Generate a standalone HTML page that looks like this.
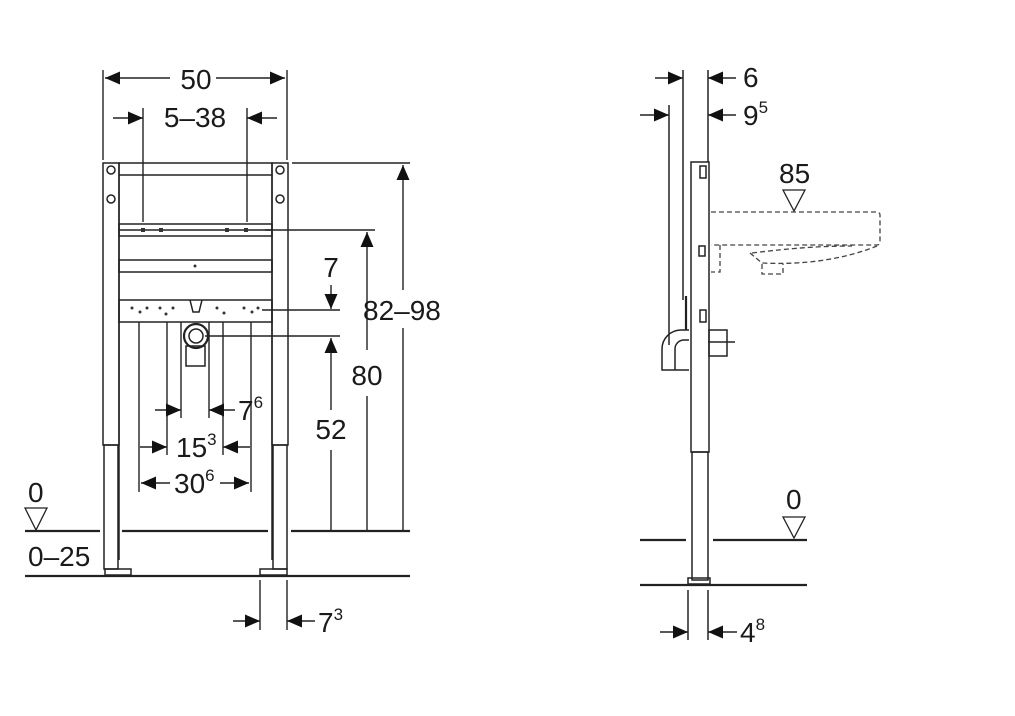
<!DOCTYPE html>
<html><head><style>html,body{margin:0;padding:0;background:#fff}svg{display:block}text{font-family:"Liberation Sans",sans-serif;fill:#1a1a1a}</style></head>
<body>
<svg width="1015" height="716" viewBox="0 0 1015 716" xmlns="http://www.w3.org/2000/svg">
<defs>
<marker id="a" markerWidth="15" markerHeight="13" refX="15" refY="6.5" orient="auto" markerUnits="userSpaceOnUse"><path d="M0,0L15,6.5L0,13z" fill="#111"/></marker>
</defs>
<g stroke="#222" stroke-width="1.5" fill="none">
<rect x="103" y="163" width="16" height="282"/>
<rect x="104" y="445" width="14" height="124"/>
<rect x="272" y="163" width="16" height="282"/>
<rect x="273" y="445" width="14" height="124"/>
<rect x="119" y="163" width="153" height="12"/>
<line x1="119" y1="175" x2="119" y2="560"/><line x1="272" y1="175" x2="272" y2="560"/>
<rect x="119" y="224" width="153" height="12"/>
<line x1="119" y1="230" x2="272" y2="230"/>
<rect x="119" y="260" width="153" height="12"/>
<rect x="119" y="300" width="153" height="22"/>
<circle cx="111" cy="170" r="4"/><circle cx="111" cy="199" r="4"/><circle cx="280" cy="170" r="4"/><circle cx="280" cy="199" r="4"/>
<circle cx="196" cy="336" r="12" stroke-width="2.2"/><circle cx="196" cy="336" r="7"/>
<rect x="186" y="346" width="19" height="20"/>
<path d="M190,300l3,12h6l3,-12" />
<rect x="105" y="569" width="26" height="6"/><rect x="260" y="569" width="27" height="6"/>
</g>
<g fill="#333">
<rect x="141" y="228" width="4" height="4"/><rect x="159" y="228" width="4" height="4"/><rect x="225" y="228" width="4" height="4"/><rect x="244" y="228" width="4" height="4"/>
<circle cx="195" cy="266" r="1.5"/>
<circle cx="132" cy="308" r="1.5"/><circle cx="140" cy="312" r="1.5"/><circle cx="147" cy="308" r="1.5"/><circle cx="160" cy="308" r="1.5"/><circle cx="166" cy="314" r="1.5"/><circle cx="173" cy="308" r="1.5"/><circle cx="217" cy="308" r="1.5"/><circle cx="224" cy="313" r="1.5"/><circle cx="244" cy="308" r="1.5"/><circle cx="252" cy="312" r="1.5"/><circle cx="258" cy="308" r="1.5"/>
</g>
<g stroke="#222" stroke-width="1.4" fill="none">
<line x1="103" y1="70" x2="103" y2="160"/><line x1="287" y1="70" x2="287" y2="160"/>
<line x1="170" y1="78" x2="105" y2="78" marker-end="url(#a)"/><line x1="216" y1="78" x2="285" y2="78" marker-end="url(#a)"/>
<line x1="143" y1="108" x2="143" y2="222"/><line x1="247" y1="108" x2="247" y2="222"/>
<line x1="113" y1="118" x2="143" y2="118" marker-end="url(#a)"/><line x1="277" y1="118" x2="247" y2="118" marker-end="url(#a)"/>
<line x1="292" y1="163" x2="410" y2="163"/><line x1="265" y1="230" x2="375" y2="230"/>
<line x1="262" y1="310" x2="340" y2="310"/><line x1="205" y1="336" x2="340" y2="336"/>
<line x1="403" y1="290" x2="403" y2="165" marker-end="url(#a)"/><line x1="403" y1="328" x2="403" y2="531"/>
<line x1="367" y1="350" x2="367" y2="232" marker-end="url(#a)"/><line x1="367" y1="396" x2="367" y2="531"/>
<line x1="331" y1="285" x2="331" y2="309" marker-end="url(#a)"/>
<line x1="331" y1="410" x2="331" y2="338" marker-end="url(#a)"/><line x1="331" y1="450" x2="331" y2="531"/>
<line x1="139" y1="322" x2="139" y2="492"/><line x1="167" y1="322" x2="167" y2="455"/><line x1="181" y1="322" x2="181" y2="418"/>
<line x1="209" y1="322" x2="209" y2="418"/><line x1="223" y1="322" x2="223" y2="455"/><line x1="251" y1="322" x2="251" y2="492"/>
<line x1="155" y1="410" x2="181" y2="410" marker-end="url(#a)"/><line x1="235" y1="410" x2="209" y2="410" marker-end="url(#a)"/>
<line x1="140" y1="447" x2="167" y2="447" marker-end="url(#a)"/><line x1="250" y1="447" x2="223" y2="447" marker-end="url(#a)"/>
<line x1="170" y1="483" x2="141" y2="483" marker-end="url(#a)"/><line x1="220" y1="483" x2="249" y2="483" marker-end="url(#a)"/>
<line x1="260" y1="580" x2="260" y2="630"/><line x1="287" y1="580" x2="287" y2="630"/>
<line x1="233" y1="621" x2="260" y2="621" marker-end="url(#a)"/><line x1="315" y1="621" x2="287" y2="621" marker-end="url(#a)"/>
</g>
<g stroke="#222" stroke-width="2.2">
<line x1="25" y1="531" x2="100" y2="531"/><line x1="122" y1="531" x2="268" y2="531"/><line x1="291" y1="531" x2="410" y2="531"/>
<line x1="25" y1="576" x2="410" y2="576"/>
<line x1="640" y1="540" x2="686" y2="540"/><line x1="713" y1="540" x2="807" y2="540"/>
<line x1="640" y1="585" x2="807" y2="585"/>
</g>
<path d="M25,508h22l-11,22z" fill="none" stroke="#222" stroke-width="1.3"/>
<path d="M783,517h22l-11,21z" fill="none" stroke="#222" stroke-width="1.3"/>
<path d="M783,190h22l-11,21z" fill="none" stroke="#222" stroke-width="1.3"/>
<g stroke="#222" stroke-width="1.5" fill="none">
<rect x="691" y="162" width="18" height="290"/>
<rect x="692" y="452" width="16" height="128"/>
<rect x="688" y="578" width="22" height="6"/>
<rect x="700" y="166" width="6" height="12"/>
<rect x="699" y="246" width="6" height="10"/>
<rect x="700" y="310" width="6" height="12"/>
<rect x="709" y="330" width="18" height="26"/>
<line x1="708" y1="342" x2="735" y2="342"/>
<path d="M689,330h-8a19,19 0 0 0 -19,19v21h27"/>
<path d="M689,340h-5a9,9 0 0 0 -9,9v21"/>
<line x1="686" y1="296" x2="686" y2="330" stroke-width="2.2"/>
<line x1="683" y1="70" x2="683" y2="300"/><line x1="708" y1="70" x2="708" y2="162"/>
<line x1="669" y1="105" x2="669" y2="345"/>
<line x1="655" y1="78" x2="683" y2="78" marker-end="url(#a)"/><line x1="736" y1="78" x2="708" y2="78" marker-end="url(#a)"/>
<line x1="640" y1="115" x2="669" y2="115" marker-end="url(#a)"/><line x1="736" y1="115" x2="708" y2="115" marker-end="url(#a)"/>
<line x1="688" y1="590" x2="688" y2="640"/><line x1="708" y1="590" x2="708" y2="640"/>
<line x1="660" y1="632" x2="688" y2="632" marker-end="url(#a)"/><line x1="737" y1="632" x2="708" y2="632" marker-end="url(#a)"/>
</g>
<g stroke="#444" stroke-width="1.3" fill="none" stroke-dasharray="5,3">
<path d="M711,212h166a3,3 0 0 1 3,3v27a3,3 0 0 1 -3,3h-166"/>
<path d="M720,245v27h-9"/>
<path d="M752,253c40,-5 70,-7 100,-7"/>
<path d="M750,253l12,10c40,2 80,-3 115,-17"/>
<path d="M762,264v10h21v-10"/>
</g>
<g font-size="28">
<text x="196" y="89" text-anchor="middle">50</text>
<text x="195" y="127" text-anchor="middle">5–38</text>
<text x="331" y="277" text-anchor="middle">7</text>
<text x="363" y="320">82–98</text>
<text x="367" y="385" text-anchor="middle">80</text>
<text x="331" y="439" text-anchor="middle">52</text>
<text x="238" y="420">7<tspan font-size="17" dy="-12">6</tspan></text>
<text x="176" y="457">15<tspan font-size="17" dy="-12">3</tspan></text>
<text x="174" y="493">30<tspan font-size="17" dy="-12">6</tspan></text>
<text x="318" y="632">7<tspan font-size="17" dy="-12">3</tspan></text>
<text x="28" y="502">0</text>
<text x="28" y="566">0–25</text>
<text x="743" y="87">6</text>
<text x="743" y="125">9<tspan font-size="17" dy="-12">5</tspan></text>
<text x="779" y="183">85</text>
<text x="786" y="509">0</text>
<text x="740" y="642">4<tspan font-size="17" dy="-12">8</tspan></text>
</g>
</svg>
</body></html>
